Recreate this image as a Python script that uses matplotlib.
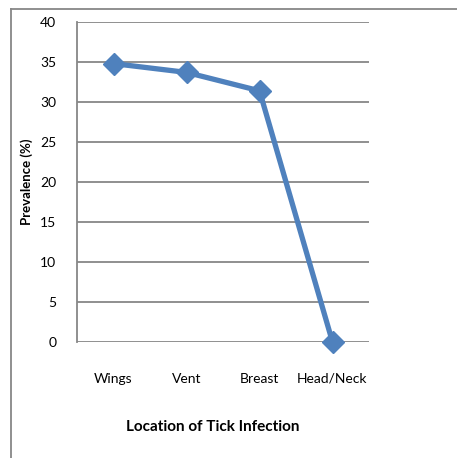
import matplotlib
matplotlib.use("Agg")
import matplotlib.pyplot as plt
from matplotlib.lines import Line2D

categories = ["Wings", "Vent", "Breast", "Head/Neck"]
prevalence = [34.8, 33.7, 31.4, 0.0]
yticks = [0, 5, 10, 15, 20, 25, 30, 35, 40]

plt.rcParams['font.family'] = ['Lato', 'DejaVu Sans']

W, H = 457, 458
fig = plt.figure(figsize=(W / 100, H / 100), dpi=100)
ax = fig.add_axes([77 / W, 1 - 342 / H, (369 - 77) / W, (342 - 22) / H])

x = list(range(len(categories)))
ax.plot(x, prevalence, color="#4F81BD", linewidth=3.8, marker="D",
        markersize=11, markerfacecolor="#4F81BD", markeredgecolor="#4F81BD",
        clip_on=False, zorder=3)

ax.set_xlim(-0.5, len(categories) - 0.5)
ax.set_ylim(0, 40)
ax.set_yticks(yticks)
ax.set_xticks(x)
ax.set_xticklabels(categories)
ax.tick_params(axis="both", length=0, labelsize=10, colors="black")
ax.tick_params(axis="y", pad=15)
ax.tick_params(axis="x", pad=22)
ax.grid(axis="y", color="#878787", linewidth=1.3)
ax.set_axisbelow(True)
for s in ["top", "right", "bottom"]:
    ax.spines[s].set_visible(False)
ax.spines["left"].set_color("#878787")
ax.spines["left"].set_linewidth(1.3)

ax.set_ylabel("Prevalence (%)", fontsize=9.5, fontweight="bold", labelpad=5)
fig.text(213 / W, 1 - 427 / H, "Location of Tick Infection", fontsize=11,
         fontweight="bold", ha="center", va="center")

# outer chart frame (left and top edges)
fig.add_artist(Line2D([11 / W, 11 / W], [0, 1 - 9 / H], transform=fig.transFigure,
                      color="#878787", linewidth=1.3))
fig.add_artist(Line2D([11 / W, 1], [1 - 9 / H, 1 - 9 / H], transform=fig.transFigure,
                      color="#878787", linewidth=1.3))

fig.savefig("out.png", dpi=100)
